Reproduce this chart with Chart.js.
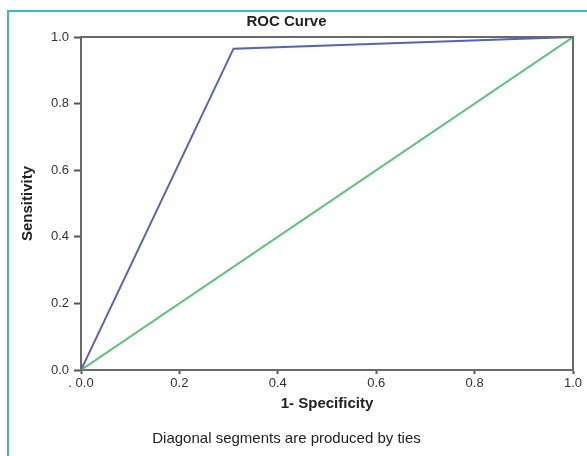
<!DOCTYPE html>
<html>
<head>
<meta charset="utf-8">
<script src="https://cdn.jsdelivr.net/npm/chart.js@4/dist/chart.umd.min.js"></script>
<style>
  html, body { margin: 0; padding: 0; background: #fff; overflow: hidden; }
  #frame { position: absolute; left: 7px; top: 10px; width: 640px; height: 520px; border: 2px solid #3ab7cf; box-sizing: border-box; }
  #wrap { position: absolute; left: 0; top: 0; width: 587px; height: 456px; }
</style>
</head>
<body>
<div id="frame"></div>
<div id="wrap"><canvas id="roc-chart" width="587" height="456"></canvas></div>
<script>
  // ROC curve points (1 - specificity, sensitivity)
  var rocX = [0, 0.31, 1];
  var rocY = [0, 0.965, 1];
  // reference diagonal
  var refX = [0, 1];
  var refY = [0, 1];
  var xTickLabels = [". 0.0", "0.2", "0.4", "0.6", "0.8", "1.0"];
  var yTickLabels = ["0.0", "0.2", "0.4", "0.6", "0.8", "1.0"];

  function toPoints(xs, ys) {
    return xs.map(function(x, i) { return { x: x, y: ys[i] }; });
  }

  function tickText(labels) {
    return function(value) {
      var i = Math.round(value * 5);
      return labels[i] !== undefined ? labels[i] : '';
    };
  }

  var frameLines = {
    id: 'frameLines',
    afterDatasetsDraw: function(chart) {
      var a = chart.chartArea, ctx = chart.ctx;
      ctx.save();
      ctx.strokeStyle = '#6a6a6a';
      ctx.lineWidth = 2;
      ctx.beginPath();
      ctx.moveTo(a.left, a.top);
      ctx.lineTo(a.right, a.top);
      ctx.lineTo(a.right, a.bottom);
      ctx.stroke();
      ctx.restore();
    }
  };

  var font = "'Liberation Sans', Arial, sans-serif";

  new Chart(document.getElementById('roc-chart'), {
    type: 'scatter',
    data: {
      datasets: [{
        label: 'ROC',
        data: toPoints(rocX, rocY),
        showLine: true,
        borderColor: '#5565b0',
        borderWidth: 2,
        pointRadius: 0,
        tension: 0
      }, {
        label: 'Reference',
        data: toPoints(refX, refY),
        showLine: true,
        borderColor: '#5ec47c',
        borderWidth: 2,
        pointRadius: 0,
        tension: 0
      }]
    },
    options: {
      responsive: false,
      animation: false,
      layout: { padding: { left: 0, right: 14, top: 0, bottom: 0 } },
      plugins: {
        legend: { display: false },
        tooltip: { enabled: false },
        title: {
          display: true,
          text: 'ROC Curve',
          color: '#222',
          font: { family: font, size: 15, weight: 'bold' },
          padding: { top: 13, bottom: 6 }
        },
        subtitle: {
          display: true,
          position: 'bottom',
          text: 'Diagonal segments are produced by ties',
          color: '#222',
          font: { family: font, size: 15 },
          padding: { top: 15, bottom: 8 }
        }
      },
      scales: {
        x: {
          type: 'linear',
          min: 0,
          max: 1,
          afterFit: function(scale) { scale.height = 45; },
          ticks: {
            stepSize: 0.2,
            padding: 2,
            color: '#333',
            font: { family: font, size: 13 },
            maxRotation: 0,
            callback: tickText(xTickLabels)
          },
          grid: { drawOnChartArea: false, tickLength: 4, color: '#555', tickWidth: 2 },
          border: { display: true, color: '#6a6a6a', width: 2 },
          title: {
            display: true,
            text: '1- Specificity',
            color: '#222',
            font: { family: font, size: 15, weight: 'bold' },
            padding: { top: 0, bottom: 2 }
          }
        },
        y: {
          type: 'linear',
          min: 0,
          max: 1,
          afterFit: function(scale) { scale.width = 81; },
          ticks: {
            stepSize: 0.2,
            padding: 5,
            color: '#333',
            font: { family: font, size: 13 },
            callback: tickText(yTickLabels)
          },
          grid: { drawOnChartArea: false, tickLength: 7, color: '#555', tickWidth: 2 },
          border: { display: true, color: '#6a6a6a', width: 2 },
          title: {
            display: true,
            text: 'Sensitivity',
            color: '#222',
            font: { family: font, size: 15, weight: 'bold' },
            padding: { top: 19, bottom: 0 }
          }
        }
      }
    },
    plugins: [frameLines]
  });
</script>
</body>
</html>
